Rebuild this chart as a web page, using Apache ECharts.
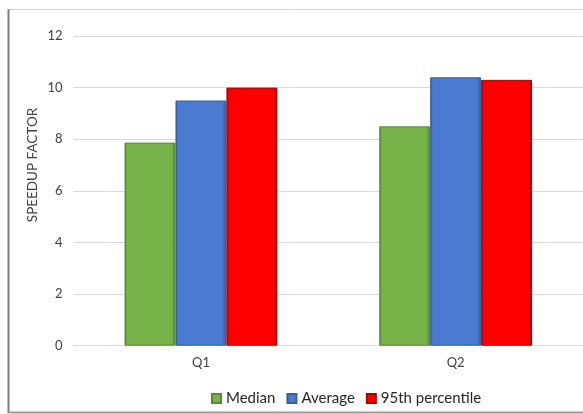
<!DOCTYPE html>
<html>
<head>
<meta charset="utf-8">
<script src="https://cdn.jsdelivr.net/npm/echarts@6/dist/echarts.min.js"></script>
<style>
html,body{margin:0;padding:0;background:#fff;}
#chart{width:583px;height:414px;}
</style>
</head>
<body>
<div id="chart"></div>
<script>
var categories = ['Q1', 'Q2'];
var seriesNames = ['Median', 'Average', '95th percentile'];
var medianValues = [7.87, 8.5];
var averageValues = [9.5, 10.4];
var p95Values = [10.0, 10.3];
var yTicks = [0, 2, 4, 6, 8, 10, 12];
var yTitle = 'SPEEDUP FACTOR';

var FONT = 'Lato, "Liberation Sans", sans-serif';
function barGrad(base, dark) {
  return new echarts.graphic.LinearGradient(0, 0, 1, 0, [
    {offset: 0, color: dark},
    {offset: 0.05, color: base},
    {offset: 0.92, color: base},
    {offset: 1, color: dark}
  ]);
}
var styles = [
  {base: '#78b34a', dark: '#4f7d2e', border: '#5a8a37'},
  {base: '#4a7bd0', dark: '#2f5597', border: '#35609f'},
  {base: '#ff0000', dark: '#a00000', border: '#b00000'}
];
var values = [medianValues, averageValues, p95Values];

var chart = echarts.init(document.getElementById('chart'), null, {renderer: 'canvas'});
chart.setOption({
  animation: false,
  backgroundColor: '#fff',
  grid: {left: 73.6, right: 0, top: 36, bottom: 68.3, containLabel: false},
  legend: {
    data: seriesNames,
    top: 386,
    left: 206,
    itemWidth: 9,
    itemHeight: 9,
    itemGap: 11,
    icon: 'rect',
    textStyle: {fontFamily: FONT, fontSize: 15, color: '#262626', padding: [0, 0, 0, 0]}
  },
  xAxis: {
    type: 'category',
    data: categories,
    axisLine: {lineStyle: {color: '#d9d9d9', width: 1}},
    axisTick: {show: false},
    axisLabel: {fontFamily: FONT, fontSize: 13, color: '#404040', margin: 11}
  },
  yAxis: {
    type: 'value',
    min: yTicks[0],
    max: yTicks[yTicks.length - 1],
    interval: 2,
    axisLine: {show: false},
    axisTick: {show: false},
    splitLine: {lineStyle: {color: '#d9d9d9', width: 1}},
    axisLabel: {fontFamily: FONT, fontSize: 13, color: '#404040', margin: 11}
  },
  series: seriesNames.map(function (n, i) {
    return {
      name: n,
      type: 'bar',
      data: values[i],
      barGap: '0%',
      barCategoryGap: '40%',
      itemStyle: {
        color: barGrad(styles[i].base, styles[i].dark),
        borderColor: styles[i].border,
        borderWidth: 1
      }
    };
  }),
  graphic: [
    {type: 'text', x: 33, y: 165, rotation: Math.PI / 2,
     style: {text: yTitle, fontFamily: FONT, fontSize: 13.5, fill: '#404040', align: 'center', verticalAlign: 'middle'}},
    {type: 'line', shape: {x1: 8, y1: 9.5, x2: 583, y2: 9.5}, style: {stroke: '#d4d4d4', lineWidth: 1}},
    {type: 'line', shape: {x1: 8.5, y1: 9, x2: 8.5, y2: 413}, style: {stroke: '#7f7f7f', lineWidth: 2}},
    {type: 'line', shape: {x1: 8, y1: 412.5, x2: 583, y2: 412.5}, style: {stroke: '#9a9a9a', lineWidth: 2}}
  ]
});
</script>
</body>
</html>
